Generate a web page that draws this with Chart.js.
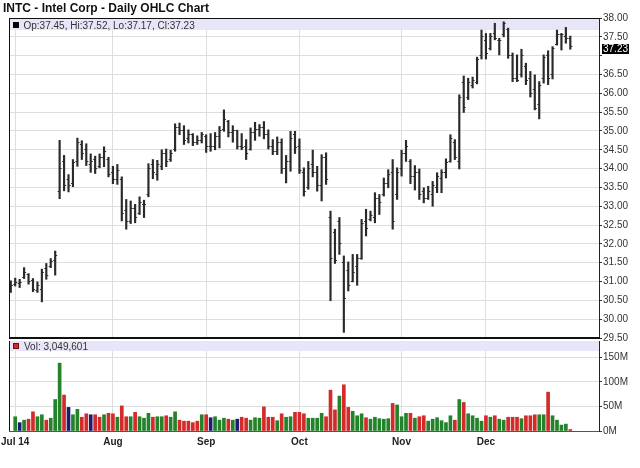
<!DOCTYPE html>
<html>
<head>
<meta charset="utf-8">
<script src="https://cdn.jsdelivr.net/npm/chart.js@4.4.1/dist/chart.umd.min.js"></script>
<style>
html,body{margin:0;padding:0;background:#fff;}
#wrap{position:relative;width:640px;height:468px;overflow:hidden;font-family:"Liberation Sans",Arial,sans-serif;}
#title{position:absolute;left:3px;top:0px;font-weight:bold;font-size:12px;color:#111;line-height:16px;white-space:nowrap;}
#c1{position:absolute;left:0;top:0;}
#c2{position:absolute;left:0;top:341px;}
.sq{position:absolute;width:6px;height:6px;box-sizing:border-box;}
.bt{position:absolute;font-size:10px;color:#333;line-height:11px;white-space:nowrap;}
</style>
</head>
<body>
<div id="wrap">
  <canvas id="c1" width="640" height="341"></canvas>
  <canvas id="c2" width="640" height="127"></canvas>
  <div id="title">INTC - Intel Corp - Daily OHLC Chart</div>
  <div class="sq" style="left:13px;top:22px;background:#000;"></div>
  <div class="bt" id="ohlcText" style="left:23.5px;top:19.5px;"></div>
  <div class="sq" style="left:13px;top:343px;background:#d42a2a;border:1px solid #6a1010;"></div>
  <div class="bt" id="volText" style="left:24px;top:340.5px;"></div>
</div>
<script>
// ---------------- DATA ----------------
const dates = ['06-30',
'07-01','07-02','07-03','07-07','07-08','07-09','07-10','07-11','07-14','07-15','07-16','07-17','07-18','07-21','07-22','07-23','07-24','07-25','07-28','07-29','07-30','07-31',
'08-01','08-04','08-05','08-06','08-07','08-08','08-11','08-12','08-13','08-14','08-15','08-18','08-19','08-20','08-21','08-22','08-25','08-26','08-27','08-28','08-29',
'09-02','09-03','09-04','09-05','09-08','09-09','09-10','09-11','09-12','09-15','09-16','09-17','09-18','09-19','09-22','09-23','09-24','09-25','09-26','09-29','09-30',
'10-01','10-02','10-03','10-06','10-07','10-08','10-09','10-10','10-13','10-14','10-15','10-16','10-17','10-20','10-21','10-22','10-23','10-24','10-27','10-28','10-29','10-30','10-31',
'11-03','11-04','11-05','11-06','11-07','11-10','11-11','11-12','11-13','11-14','11-17','11-18','11-19','11-20','11-21','11-24','11-25','11-26','11-28',
'12-01','12-02','12-03','12-04','12-05','12-08','12-09','12-10','12-11','12-12','12-15','12-16','12-17','12-18','12-19','12-22','12-23','12-24','12-26','12-29'];

const openP = [30.80,30.92,30.95,31.10,31.20,31.02,30.75,30.80,31.35,31.40,31.55,
33.40,34.20,33.70,33.60,34.20,34.65,34.50,34.10,34.25,34.05,
34.30,34.25,33.90,33.70,33.70,32.90,32.60,32.95,32.80,33.05,
33.30,34.10,33.85,34.05,34.40,34.25,34.50,35.10,35.00,34.80,
34.90,34.70,34.75,34.85,34.60,34.60,34.85,35.05,35.25,34.95,
35.00,34.60,34.60,34.50,34.95,35.05,35.10,34.90,34.60,34.45,
34.70,34.00,34.20,34.90,34.60,33.90,33.50,34.10,33.90,33.55,
34.30,32.70,32.30,32.60,31.50,31.28,31.00,31.40,31.60,32.60,
32.65,32.70,33.20,33.30,33.60,33.90,33.30,34.00,34.40,34.20,
33.80,33.90,33.40,33.20,33.30,33.50,33.75,33.90,34.20,34.70,
34.20,36.30,35.90,36.20,36.30,37.00,37.40,37.20,37.60,37.40,
37.55,37.70,37.00,36.40,36.50,36.70,36.40,36.10,35.70,36.40,
37.00,36.50,37.30,37.55,37.50,37.45];

const highP = [31.02,31.09,31.06,31.37,31.21,31.08,30.99,31.33,31.48,31.61,31.81,
34.75,34.35,33.84,34.24,34.81,34.74,34.66,34.39,34.33,34.39,
34.58,34.30,34.06,34.11,33.78,33.18,33.14,33.05,33.25,33.16,
34.13,34.24,34.22,34.50,34.52,34.49,35.19,35.21,35.14,35.03,
34.93,34.87,34.96,34.90,34.93,34.96,35.12,35.56,35.28,35.14,
35.02,34.93,34.77,35.08,35.23,35.17,35.25,35.03,34.77,34.84,
34.79,34.35,34.99,34.99,34.79,34.02,34.19,34.49,34.06,34.37,
34.42,32.87,32.39,32.70,31.68,31.52,31.72,31.72,32.65,32.92,
32.87,33.36,33.31,33.75,33.97,34.24,34.02,34.49,34.75,34.24,
34.08,33.99,33.49,33.53,33.66,33.89,33.97,34.26,34.90,34.77,
35.96,36.46,36.40,36.43,36.96,37.68,37.59,37.59,37.86,37.46,
37.90,37.73,37.07,37.02,37.17,36.80,36.58,36.49,36.31,37.02,
37.13,37.24,37.68,37.59,37.75,37.52];

const lowP = [30.71,30.88,30.84,31.08,30.93,30.73,30.71,30.46,31.06,31.37,31.17,
33.20,33.41,33.38,33.52,34.06,34.24,34.08,33.90,33.87,34.02,
34.05,33.78,33.60,33.58,32.61,32.39,32.54,32.56,32.78,32.70,
33.25,33.73,33.69,33.97,34.05,34.19,34.46,34.90,34.64,34.68,
34.61,34.64,34.68,34.43,34.46,34.50,34.55,34.99,34.84,34.70,
34.52,34.50,34.24,34.49,34.75,34.86,34.79,34.52,34.37,34.37,
33.87,33.62,33.93,34.40,33.87,33.27,33.45,33.78,33.40,33.14,
33.58,30.49,31.48,31.72,29.65,30.75,30.99,30.90,31.59,32.21,
32.61,32.56,32.78,33.27,33.49,32.39,33.18,33.80,34.19,33.60,
33.43,33.18,33.09,33.18,33.00,33.36,33.36,33.75,34.17,34.24,
33.99,35.49,35.83,36.14,36.25,36.91,36.91,37.15,37.42,37.02,
37.50,36.93,36.31,36.31,36.43,36.23,35.90,35.56,35.32,36.27,
36.23,36.38,37.28,37.15,37.33,37.17];

const closeP = [30.90,30.98,30.98,31.25,31.00,30.78,30.90,31.25,31.15,31.52,31.70,
34.00,33.55,33.55,34.15,34.70,34.40,34.20,34.20,34.00,34.30,
34.45,33.85,33.70,33.95,32.80,32.60,32.95,32.70,33.10,33.05,
34.00,33.90,34.10,34.40,34.20,34.40,35.10,35.00,34.75,34.90,
34.70,34.75,34.90,34.60,34.60,34.85,35.00,35.30,34.95,35.00,
34.60,34.55,34.40,34.95,35.05,35.10,34.90,34.60,34.45,34.70,
34.00,34.20,34.80,34.55,33.95,33.40,34.00,33.90,33.55,34.30,
33.70,31.60,31.55,32.00,30.55,30.90,31.25,31.60,32.55,32.40,
32.75,33.20,33.10,33.60,33.85,32.60,33.90,34.40,34.60,33.80,
33.90,33.30,33.20,33.40,33.55,33.80,33.90,34.15,34.80,34.30,
35.90,35.62,36.30,36.35,36.90,37.50,37.05,37.50,37.45,37.40,
37.85,37.00,36.40,36.35,37.00,36.35,36.00,35.60,36.20,36.95,
36.40,37.20,37.55,37.56,37.45,37.23];

// volume in millions of shares
const volumeM = [null,29,17,22,24,39,29,33,22,26,64,
138,73,48,33,44,28,35,33,33,28,
33,36,35,28,51,29,29,38,29,26,
36,28,29,29,31,28,39,22,20,20,
17,20,33,33,27,29,22,26,24,22,
24,28,26,22,27,26,49,28,28,21,
35,28,29,38,38,35,26,26,26,36,
29,83,43,71,94,48,40,31,35,27,
24,28,25,24,25,56,53,29,36,36,
26,29,31,20,24,27,21,17,31,22,
64,58,35,31,26,20,31,28,31,24,
22,28,28,28,25,31,31,33,33,33,
79,31,22,12,14,3.049601];

// u = up (green), d = down (red), n = unchanged (blue), - = none
const volumeDirection = ('-' + 'unudduuduu' + 'udnuuddndd' + 'uddudduduu' + 'uduuduuddd' +
  'ddudnuuudu' + 'ndduuudddu' + 'duuddduuuu' + 'dddudduuud' + 'uuuuuduuud' +
  'udduuuuuud' + 'uduuuududu' + 'uddduddduu' + 'duuuud').split('');

const monthTickDates  = ['07-01','08-01','09-02','10-01','11-03','12-01'];
const monthTickLabels = ['Jul 14','Aug','Sep','Oct','Nov','Dec'];
const volumeTicks = [0, 50, 100, 150];

// ---------------- CHART ----------------
const FONT = "'Liberation Sans', Arial, sans-serif";
Chart.defaults.font.family = FONT;
Chart.defaults.color = '#333';

const idx = dates.map((d, i) => i);
const last = idx.length - 1;
const lastClose = closeP[last];
const tickIdx = monthTickDates.map(d => dates.indexOf(d));
const X_MIN = -0.4, X_MAX = 132.46;
const GRID = '#dedede';

document.getElementById('ohlcText').textContent =
  'Op:' + openP[last].toFixed(2) + ', Hi:' + highP[last].toFixed(2) +
  ', Lo:' + lowP[last].toFixed(2) + ', Cl:' + closeP[last].toFixed(2);
document.getElementById('volText').textContent =
  'Vol: ' + Math.round(volumeM[last] * 1e6).toLocaleString('en-US');

function makeX(showLabels, showBorder) {
  return {
    type: 'linear', min: X_MIN, max: X_MAX, offset: false,
    afterBuildTicks: s => { s.ticks = tickIdx.map(v => ({ value: v })); },
    afterFit: s => { s.height = showLabels ? 37 : 0; s.paddingLeft = 0; s.paddingRight = 0; },
    ticks: {
      display: showLabels, autoSkip: false, maxRotation: 0, minRotation: 0, padding: 5,
      color: '#222', font: { size: 10, weight: 'bold' },
      callback: v => monthTickLabels[tickIdx.indexOf(v)]
    },
    grid: { color: GRID, lineWidth: 1, drawTicks: false, offset: false },
    border: { display: showBorder, color: '#555', width: 1 }
  };
}

function tickImg(side) {
  const c = document.createElement('canvas');
  c.width = 6; c.height = 1;
  const g = c.getContext('2d');
  g.fillStyle = '#333';
  if (side === 'L') g.fillRect(1, 0, 2, 1); else g.fillRect(3, 0, 2, 1);
  return c;
}

const pricePanel = {
  id: 'pricePanel',
  beforeDatasetsDraw(chart) {
    const { ctx, chartArea: a } = chart;
    ctx.save();
    ctx.fillStyle = '#e6e6f8';
    ctx.fillRect(a.left, a.top + 1, a.right - a.left, 11);
    ctx.restore();
  },
  afterDraw(chart) {
    const { ctx, chartArea: a, scales } = chart;
    ctx.save();
    ctx.strokeStyle = '#111';
    ctx.lineWidth = 1;
    ctx.beginPath();
    ctx.moveTo(a.left + 0.5, a.top); ctx.lineTo(a.left + 0.5, a.bottom);
    ctx.moveTo(a.left, a.top + 0.5); ctx.lineTo(a.right, a.top + 0.5);
    ctx.stroke();
    ctx.lineWidth = 2;
    ctx.beginPath();
    ctx.moveTo(a.left, a.bottom); ctx.lineTo(a.right + 1, a.bottom);
    ctx.stroke();
    const y = scales.y.getPixelForValue(lastClose);
    ctx.fillStyle = '#000';
    ctx.fillRect(a.right + 3, y - 3, 27, 10);
    ctx.fillStyle = '#fff';
    ctx.font = '10px ' + FONT;
    ctx.textBaseline = 'middle';
    ctx.textAlign = 'left';
    ctx.fillText(lastClose.toFixed(2), a.right + 4, y + 2);
    ctx.restore();
  }
};

const volPanel = {
  id: 'volPanel',
  beforeDatasetsDraw(chart) {
    const { ctx, chartArea: a } = chart;
    ctx.save();
    ctx.fillStyle = '#e6e6f8';
    ctx.fillRect(a.left, a.top, a.right - a.left, 10);
    ctx.restore();
  },
  afterDraw(chart) {
    const { ctx, chartArea: a } = chart;
    ctx.save();
    ctx.strokeStyle = '#111';
    ctx.lineWidth = 1;
    ctx.beginPath();
    ctx.moveTo(a.left + 0.5, a.top); ctx.lineTo(a.left + 0.5, a.bottom);
    ctx.stroke();
    ctx.restore();
  }
};

new Chart(document.getElementById('c1'), {
  type: 'bar',
  data: {
    datasets: [
      { type: 'bar', data: idx.map(i => ({ x: i, y: [lowP[i], highP[i]] })),
        backgroundColor: '#2a2a2a', borderWidth: 0, barThickness: 1.5 },
      { type: 'line', data: idx.map(i => ({ x: i, y: openP[i] })), showLine: false,
        pointStyle: tickImg('L'), pointRadius: 2, pointHoverRadius: 2 },
      { type: 'line', data: idx.map(i => ({ x: i, y: closeP[i] })), showLine: false,
        pointStyle: tickImg('R'), pointRadius: 2, pointHoverRadius: 2 }
    ]
  },
  options: {
    responsive: false, animation: false, devicePixelRatio: 1,
    layout: { padding: { left: 9, top: 18, right: 0, bottom: 1 } },
    plugins: { legend: { display: false }, tooltip: { enabled: false }, title: { display: false } },
    scales: {
      x: makeX(false, false),
      y: {
        position: 'right', min: 29.5, max: 38,
        afterFit: s => { s.width = 41; s.paddingTop = 0; s.paddingBottom = 0; },
        ticks: {
          stepSize: 0.5, autoSkip: false, padding: 1, color: '#333', font: { size: 10 },
          callback: v => Math.abs(v - lastClose) < 0.25 ? '' : Number(v).toFixed(2)
        },
        grid: { color: GRID, tickColor: '#333', tickLength: 3 },
        border: { display: true, color: '#222' }
      }
    }
  },
  plugins: [pricePanel]
});

const volColors = { u: '#23822a', d: '#d42a2a', n: '#1c1c72', '-': '#23822a' };

new Chart(document.getElementById('c2'), {
  type: 'bar',
  data: {
    datasets: [
      { type: 'bar', data: idx.map(i => ({ x: i, y: volumeM[i] })),
        backgroundColor: idx.map(i => volColors[volumeDirection[i]]),
        borderWidth: 0, barThickness: 3 }
    ]
  },
  options: {
    responsive: false, animation: false, devicePixelRatio: 1,
    layout: { padding: { left: 9, top: 0, right: 0, bottom: 0 } },
    plugins: { legend: { display: false }, tooltip: { enabled: false }, title: { display: false } },
    scales: {
      x: makeX(true, true),
      y: {
        position: 'right', min: 0, max: 183,
        afterBuildTicks: s => { s.ticks = volumeTicks.map(v => ({ value: v })); },
        afterFit: s => { s.width = 41; s.paddingTop = 0; s.paddingBottom = 0; },
        ticks: { autoSkip: false, padding: 1, color: '#333', font: { size: 10 },
          callback: v => v + 'M' },
        grid: { color: GRID, tickColor: '#333', tickLength: 3 },
        border: { display: true, color: '#222' }
      }
    }
  },
  plugins: [volPanel]
});
</script>
</body>
</html>
